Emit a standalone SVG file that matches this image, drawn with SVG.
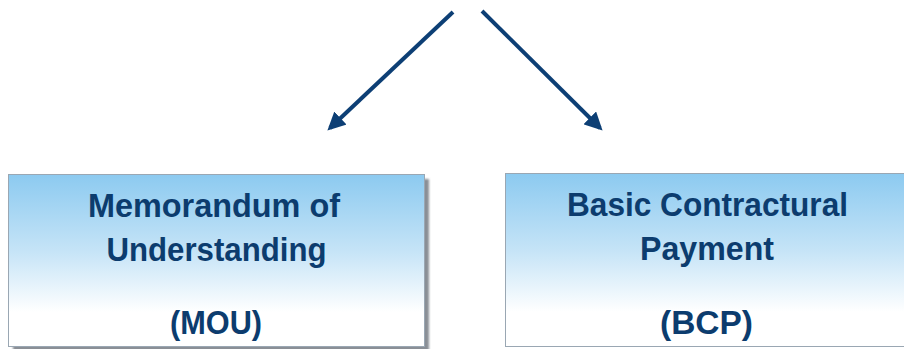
<svg xmlns="http://www.w3.org/2000/svg" width="904" height="349" viewBox="0 0 904 349">
<style>
.box{fill:url(#g);stroke:#9aa7b3;stroke-width:1}
.lbl{font-family:"Liberation Sans",Arial,sans-serif;font-weight:bold;font-size:34px;fill:#0c3c6e;text-anchor:middle}
.conn{stroke:#0d3f75;stroke-width:4;fill:none;marker-end:url(#ah)}
</style>
<defs>
<linearGradient id="g" x1="0" y1="0" x2="0" y2="1">
<stop offset="0" stop-color="#8ccaf0"/>
<stop offset="0.45" stop-color="#c6e4f7"/>
<stop offset="0.8" stop-color="#ffffff"/>
<stop offset="1" stop-color="#ffffff"/>
</linearGradient>
<filter id="sh" x="-5%" y="-5%" width="115%" height="115%">
<feGaussianBlur stdDeviation="1"/>
</filter>
<marker id="ah" viewBox="0 0 10 10" refX="8" refY="5" markerWidth="4.5" markerHeight="4.5" orient="auto" markerUnits="strokeWidth">
<path d="M0,0 L10,5 L0,10 z" fill="#0d3f75"/>
</marker>
</defs>
<g id="connectors">
<line class="conn" x1="453" y1="12" x2="330" y2="128"/>
<line class="conn" x1="482" y1="11" x2="600" y2="128"/>
</g>
<g id="mou">
<rect x="13" y="179" width="416" height="173" fill="#8a8f96" filter="url(#sh)"/>
<rect class="box" x="8.5" y="174.5" width="416" height="172"/>
<text class="lbl" x="214" y="216.5" textLength="252" lengthAdjust="spacingAndGlyphs">Memorandum of</text>
<text class="lbl" x="216.5" y="261" textLength="220" lengthAdjust="spacingAndGlyphs">Understanding</text>
<text class="lbl" x="216" y="334" textLength="92" lengthAdjust="spacingAndGlyphs">(MOU)</text>
</g>
<g id="bcp">
<rect class="box" x="505.5" y="173.5" width="410" height="173"/>
<text class="lbl" x="707.5" y="216" textLength="281" lengthAdjust="spacingAndGlyphs">Basic Contractural</text>
<text class="lbl" x="707" y="260" textLength="134" lengthAdjust="spacingAndGlyphs">Payment</text>
<text class="lbl" x="706.5" y="334" textLength="93" lengthAdjust="spacingAndGlyphs">(BCP)</text>
</g>
</svg>
